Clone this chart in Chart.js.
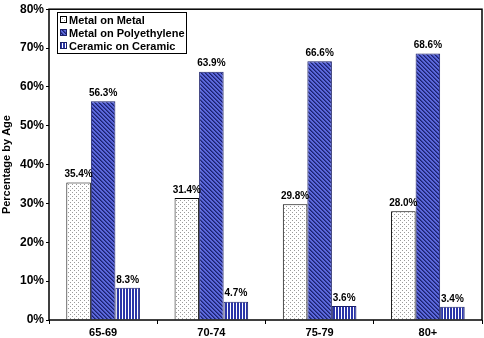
<!DOCTYPE html>
<html>
<head>
<meta charset="utf-8">
<script src="https://cdn.jsdelivr.net/npm/chart.js@4/dist/chart.umd.min.js"></script>
<style>
  body { margin: 0; background: #fff; }
  #wrap { width: 484px; height: 338px; }
</style>
</head>
<body>
<div id="wrap"><canvas id="c" width="484" height="338"></canvas></div>
<script>
const ageGroups = ['65-69', '70-74', '75-79', '80+'];
const metalOnMetal = [35.4, 31.4, 29.8, 28.0];
const metalOnPoly = [56.3, 63.9, 66.6, 68.6];
const ceramicOnCeramic = [8.3, 4.7, 3.6, 3.4];
const seriesNames = ['Metal on Metal', 'Metal on Polyethylene', 'Ceramic on Ceramic'];
const yTicks = [0, 10, 20, 30, 40, 50, 60, 70, 80];

const FONT = '"Liberation Sans", Arial, sans-serif';

// fill patterns
function makePattern(kind) {
  const p = document.createElement('canvas');
  const g = p.getContext('2d');
  if (kind === 'dots') {
    p.width = 4; p.height = 4;
    g.fillStyle = '#ffffff';
    g.fillRect(0, 0, 4, 4);
    g.fillStyle = '#9a9a9a';
    g.fillRect(0, 0, 1, 1);
    g.fillRect(2, 2, 1, 1);
  } else if (kind === 'hatch') {
    p.width = 4; p.height = 4;
    g.fillStyle = '#5c68dc';
    g.fillRect(0, 0, 4, 4);
    g.fillStyle = '#1c2070';
    for (let i = 0; i < 4; i++) {
      g.fillRect(i, i, 1, 1);
    }
    g.fillStyle = '#34409e';
    for (let i = 0; i < 4; i++) {
      g.fillRect((i + 1) % 4, i, 1, 1);
    }
  } else {
    p.width = 3; p.height = 3;
    g.fillStyle = '#ffffff';
    g.fillRect(0, 0, 3, 3);
    g.fillStyle = '#2a35a8';
    g.fillRect(0, 0, 2, 3);
  }
  return g.createPattern(p, 'repeat');
}

const fills = [makePattern('dots'), makePattern('hatch'), makePattern('stripes')];
const borders = ['#000000', '#1a1f6a', '#1a1f6a'];

const frameAndLabels = {
  id: 'frameAndLabels',
  afterDatasetsDraw(chart) {
    const { ctx, chartArea: a } = chart;
    ctx.save();
    // plot frame
    ctx.strokeStyle = '#000';
    ctx.lineWidth = 1.5;
    ctx.strokeRect(a.left, a.top, a.right - a.left, a.bottom - a.top);

    // value labels
    ctx.fillStyle = '#000';
    ctx.font = 'bold 10px ' + FONT;
    ctx.textAlign = 'center';
    ctx.textBaseline = 'bottom';
    chart.data.datasets.forEach((ds, i) => {
      chart.getDatasetMeta(i).data.forEach((bar, j) => {
        ctx.fillText(ds.data[j].toFixed(1) + '%', bar.x, bar.y - 3);
      });
    });

    // legend box
    const lx = 57, ly = 12, lw = 129, lh = 41;
    ctx.fillStyle = '#fff';
    ctx.fillRect(lx, ly, lw, lh);
    ctx.strokeStyle = '#000';
    ctx.lineWidth = 1;
    ctx.strokeRect(lx + 0.5, ly + 0.5, lw, lh);
    ctx.font = 'bold 11px ' + FONT;
    ctx.textAlign = 'left';
    ctx.textBaseline = 'middle';
    seriesNames.forEach((name, i) => {
      const y = ly + 8 + i * 13;
      ctx.fillStyle = fills[i];
      ctx.fillRect(60, y - 4, 7, 7);
      ctx.strokeStyle = borders[i];
      ctx.strokeRect(60.5, y - 3.5, 6, 6);
      ctx.fillStyle = '#000';
      ctx.fillText(name, 69, y + 1);
    });
    ctx.restore();
  }
};

new Chart(document.getElementById('c'), {
  type: 'bar',
  data: {
    labels: ageGroups,
    datasets: [metalOnMetal, metalOnPoly, ceramicOnCeramic].map((d, i) => ({
      label: seriesNames[i],
      data: d,
      backgroundColor: fills[i],
      borderColor: borders[i],
      borderWidth: 1,
      borderSkipped: 'bottom',
      barPercentage: 1,
      categoryPercentage: 0.68
    }))
  },
  options: {
    responsive: false,
    animation: false,
    layout: { padding: { top: 7, right: 2, left: 0, bottom: 0 } },
    plugins: {
      legend: { display: false },
      tooltip: { enabled: false }
    },
    scales: {
      x: {
        offset: true,
        grid: {
          offset: true,
          drawOnChartArea: false,
          drawTicks: true,
          tickLength: 4,
          color: '#000'
        },
        border: { display: false },
        ticks: {
          color: '#000',
          font: { family: FONT, size: 11, weight: 'bold' },
          padding: 2
        },
        afterFit(s) { s.height = 18; }
      },
      y: {
        min: 0,
        max: 80,
        afterBuildTicks(s) { s.ticks = yTicks.map(v => ({ value: v })); },
        grid: {
          drawOnChartArea: false,
          drawTicks: true,
          tickLength: 3,
          color: '#000'
        },
        border: { display: false },
        ticks: {
          color: '#000',
          font: { family: FONT, size: 12, weight: 'bold' },
          padding: 2,
          callback: v => v + '%'
        },
        title: {
          display: true,
          text: 'Percentage by Age',
          color: '#000',
          font: { family: FONT, size: 11, weight: 'bold' },
          padding: { top: 0, bottom: 2 }
        },
        afterFit(s) { s.width = 49; }
      }
    }
  },
  plugins: [frameAndLabels]
});
</script>
</body>
</html>
